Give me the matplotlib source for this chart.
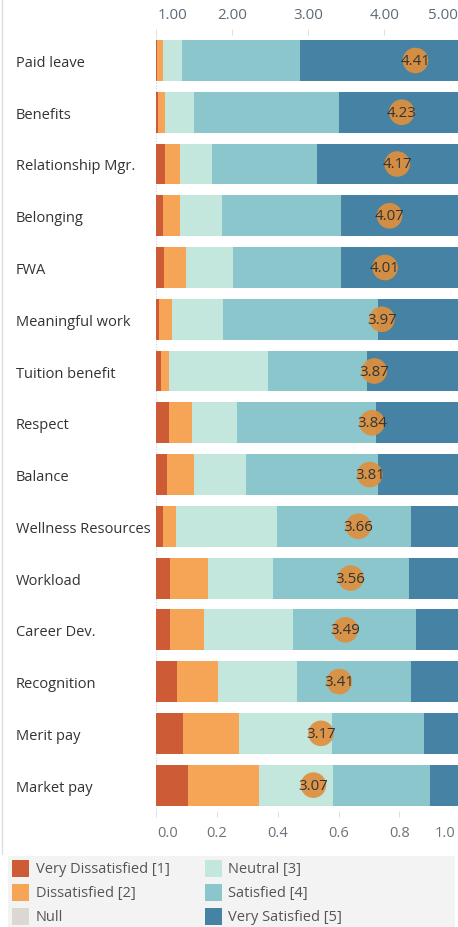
import numpy as np
import matplotlib
matplotlib.use('Agg')
import matplotlib.pyplot as plt
import matplotlib.transforms as mtransforms
from matplotlib.patches import Rectangle
from matplotlib.lines import Line2D

categories = ["Paid leave", "Benefits", "Relationship Mgr.", "Belonging", "FWA",
              "Meaningful work", "Tuition benefit", "Respect", "Balance",
              "Wellness Resources", "Workload", "Career Dev.", "Recognition",
              "Merit pay", "Market pay"]
very_dissatisfied = [0.003, 0.009, 0.032, 0.024, 0.027, 0.012, 0.016, 0.044, 0.036, 0.024, 0.048, 0.048, 0.071, 0.091, 0.107]
dissatisfied      = [0.021, 0.023, 0.048, 0.056, 0.072, 0.043, 0.027, 0.075, 0.090, 0.043, 0.123, 0.111, 0.135, 0.183, 0.233]
neutral           = [0.062, 0.094, 0.105, 0.138, 0.154, 0.166, 0.324, 0.149, 0.170, 0.332, 0.213, 0.292, 0.257, 0.304, 0.242]
satisfied         = [0.388, 0.475, 0.345, 0.391, 0.355, 0.510, 0.328, 0.455, 0.435, 0.438, 0.446, 0.403, 0.374, 0.303, 0.319]
very_satisfied    = [0.526, 0.399, 0.470, 0.391, 0.392, 0.269, 0.305, 0.277, 0.269, 0.163, 0.170, 0.146, 0.163, 0.119, 0.099]
mean_scores       = [4.41, 4.23, 4.17, 4.07, 4.01, 3.97, 3.87, 3.84, 3.81, 3.66, 3.56, 3.49, 3.41, 3.17, 3.07]

share_ticks = [0.0, 0.2, 0.4, 0.6, 0.8, 1.0]
share_tick_labels = ["0.0", "0.2", "0.4", "0.6", "0.8", "1.0"]
score_ticks = [1, 2, 3, 4, 5]
score_tick_labels = ["1.00", "2.00", "3.00", "4.00", "5.00"]

legend_labels = ["Very Dissatisfied [1]", "Dissatisfied [2]", "Null",
                 "Neutral [3]", "Satisfied [4]", "Very Satisfied [5]"]

colors = ["#cd5b35", "#f5a555", "#c3e7dc", "#8bc6cd", "#4582a3"]
null_color = "#ddd7d4"
circle_color = "#de8f3e"

FONT = "Open Sans"
W, H = 458, 928
fig = plt.figure(figsize=(W / 100, H / 100), dpi=100)
fig.patch.set_facecolor("white")

def fx(px):
    return px / W

def fy(py):
    return 1 - py / H

ax_left, ax_right, ax_top, ax_bot = 155.7, 460.4, 35.6, 812.0
ax = fig.add_axes([fx(ax_left), fy(ax_bot), (ax_right - ax_left) / W, (ax_bot - ax_top) / H])
ax.set_facecolor("white")

y = np.arange(len(categories))
series = [very_dissatisfied, dissatisfied, neutral, satisfied, very_satisfied]
left = np.zeros(len(categories))
for vals, c in zip(series, colors):
    vals = np.array(vals)
    ax.barh(y, vals, left=left, height=0.79, color=c, edgecolor="none")
    left += vals

ax.set_xlim(0, 1)
ax.set_ylim(len(categories) - 0.5, -0.5)
for s in ax.spines.values():
    s.set_visible(False)
ax.axvline(0, color="#cfcfcf", lw=0.8, ls=(0, (1, 1.5)), zorder=0)

ax.set_xticks(share_ticks)
ax.set_xticklabels(share_tick_labels)
ax.tick_params(axis="x", bottom=True, top=False, length=4, width=0.6, color="#d9d9d9",
               labelsize=10.5, labelcolor="#6b737a", pad=6)
for lab in ax.get_xticklabels():
    lab.set_fontfamily(FONT)
xl = ax.get_xticklabels()
xl[0].set_ha("left")
xl[0].set_transform(xl[0].get_transform() + mtransforms.ScaledTranslation(2 / 100, 0, fig.dpi_scale_trans))
xl[-1].set_ha("right")
xl[-1].set_transform(xl[-1].get_transform() + mtransforms.ScaledTranslation(-5 / 100, 0, fig.dpi_scale_trans))

ax.set_yticks(y)
ax.set_yticklabels(categories)
ax.tick_params(axis="y", length=0, pad=(ax_left - 16) * 72 / 100, labelsize=10.5, labelcolor="#333333")
for lab in ax.get_yticklabels():
    lab.set_ha("left")
    lab.set_fontfamily(FONT)

ax2 = ax.twiny()
ax2.set_xlim(1, 5)
for s in ax2.spines.values():
    s.set_visible(False)
ax2.scatter(mean_scores, y, s=340, color=circle_color, alpha=0.93, edgecolors="none", zorder=3)
for m, yy in zip(mean_scores, y):
    ax2.text(m, yy, f"{m:.2f}", ha="center", va="center", fontsize=10.8, color="#333333",
             fontfamily=FONT, zorder=4)
ax2.set_xticks(score_ticks)
ax2.set_xticklabels(score_tick_labels)
ax2.tick_params(axis="x", top=True, bottom=False, length=4, width=0.6, color="#d9d9d9",
                labelsize=10.8, labelcolor="#5d6a78", pad=5)
for lab in ax2.get_xticklabels():
    lab.set_fontfamily(FONT)
tl = ax2.get_xticklabels()
tl[0].set_ha("left")
tl[0].set_transform(tl[0].get_transform() + mtransforms.ScaledTranslation(2 / 100, 0, fig.dpi_scale_trans))
tl[-1].set_ha("right")
tl[-1].set_transform(tl[-1].get_transform() + mtransforms.ScaledTranslation(-3 / 100, 0, fig.dpi_scale_trans))

# left frame line
fig.add_artist(Line2D([fx(1.5), fx(1.5)], [fy(855), fy(0)], color="#dedede", lw=1))

# legend
lax = fig.add_axes([fx(8), 0, (455 - 8) / W, (H - 857) / H])
lax.set_xlim(8, 455)
lax.set_ylim(H, 857)
lax.set_facecolor("#f3f3f3")
for s in lax.spines.values():
    s.set_visible(False)
lax.set_xticks([])
lax.set_yticks([])
leg_colors = [colors[0], colors[1], null_color, colors[2], colors[3], colors[4]]
col_x = [12.3, 205]
row_y = [861, 885, 909]
for i, (lab, c) in enumerate(zip(legend_labels, leg_colors)):
    cx = col_x[i // 3]
    ry = row_y[i % 3]
    lax.add_patch(Rectangle((cx, ry), 16.8, 16.8, facecolor=c, edgecolor="none"))
    lax.text(cx + 23.5, ry + 8.6, lab, ha="left", va="center", fontsize=10.5,
             color="#555555", fontfamily=FONT)

fig.savefig("out.png", dpi=100, facecolor="white")
